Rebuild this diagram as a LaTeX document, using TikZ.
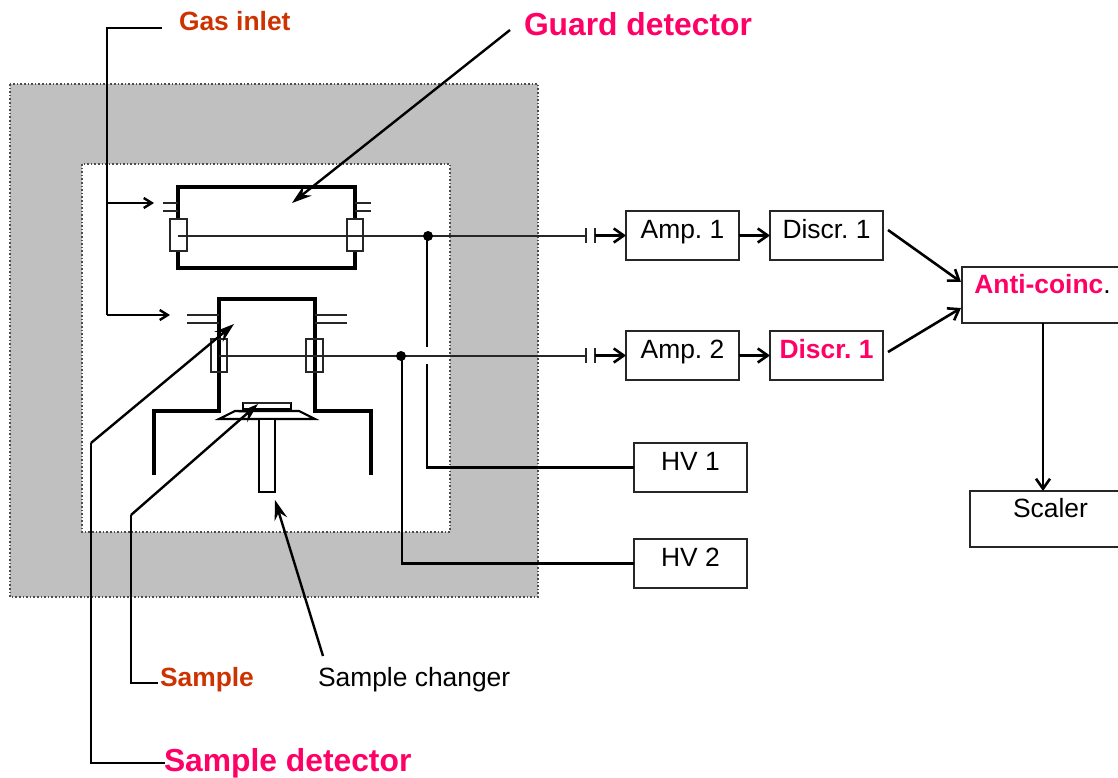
\documentclass[tikz,border=0pt]{standalone}
\usepackage{fontspec}
\setmainfont{Liberation Sans}
\usetikzlibrary{positioning}
\usetikzlibrary{calc,arrows.meta}
\definecolor{pinklabel}{RGB}{255,0,102}
\definecolor{rustlabel}{RGB}{204,51,0}
\definecolor{shieldgray}{RGB}{192,192,192}
\begin{document}
\frenchspacing
\begin{tikzpicture}[x=1pt,y=-1pt,every node/.style={outer sep=0pt,inner sep=0pt},
		wall/.style={line width=4.4pt,line join=miter},
		thin wire/.style={line width=2pt,draw=black!85},
		lead/.style={line width=2.1pt},
		feed/.style={line width=2.6pt,-{Straight Barb[length=10pt,width=14pt]}},
		inlet/.style={line width=2.4pt,-{Straight Barb[length=8pt,width=10pt]}},
		pointer/.style={line width=2.4pt,-{Stealth[length=20pt,width=13pt,inset=7pt]}},
		shield/.style={draw=black!70,line width=1.6pt,dotted},
		unit/.style={draw=black!85,line width=1.7pt,fill=white,text height=18pt,text depth=13pt,font=\fontsize{26.4}{29}\selectfont},
		small unit/.style={unit,minimum width=113pt,minimum height=49pt,anchor=north west},
		wide unit/.style={unit,minimum width=161pt,minimum height=56pt,anchor=north west,text depth=21pt},
		]
	\useasboundingbox (0,0) rectangle (1118,778);
	% shielding
	\draw[shield,fill=shieldgray] (10,84) rectangle (538,597);
	\draw[shield,fill=white] (82,164) rectangle (450,532);

	% guard detector
	\draw[wall] (178,187) rectangle (355,268);
	\foreach \y in {203,211} {
		\draw[thin wire] (163,\y) -- (178,\y);
		\draw[thin wire] (355,\y) -- (371,\y);
	}
	\draw[thin wire,fill=white] (170,219) rectangle (187,251);
	\draw[thin wire,fill=white] (347,219) rectangle (363,251);
	\draw[thin wire] (178,236) -- (586,236);

	% sample detector
	\draw[wall] (154,475) -- (154,411) -- (219,411) -- (219,299) -- (315,299) -- (315,411) -- (371,411) -- (371,475);
	\foreach \y in {315,323} {
		\draw[thin wire] (187,\y) -- (219,\y);
		\draw[thin wire] (315,\y) -- (347,\y);
	}
	\draw[thin wire] (211,339) rectangle (227,372);
	\draw[thin wire] (306,339) rectangle (323,372);
	\draw[thin wire] (219,356) -- (586,356);

	% sample holder
	\draw[lead,fill=white] (219,419) -- (235,411) -- (299,411) -- (315,419) -- cycle;
	\draw[lead] (243,402) -- (243,409) -- (291,409) -- (291,402);
	\draw[thin wire] (243,403) -- (291,403);
	\draw[lead,fill=white] (259,419) rectangle (275,492);

	% electronics
	\node[small unit] (amp1) at (626,211) {Amp. 1};
	\node[small unit] (discr1) at (770,211) {Discr. 1};
	\node[small unit] (amp2) at (626,331) {Amp. 2};
	\node[small unit] (discr2) at (770,331) {\textcolor{pinklabel}{\textbf{Discr. 1}}};
	\node[wide unit] (anti) at (962,267) {\textcolor{pinklabel}{\textbf{Anti-coinc}}.};
	\node[wide unit] (scaler) at (970,491) {Scaler};
	\node[small unit] (hv1) at (634,443) {HV 1};
	\node[small unit] (hv2) at (634,539) {HV 2};

	% signal lines
	\coordinate (cap1) at (595,235.5);
	\coordinate (cap2) at (595,355.5);
	\draw[thin wire] (586,228) -- (586,243);
	\draw[thin wire] (595,228) -- (595,243);
	\draw[thin wire] (586,348) -- (586,363);
	\draw[thin wire] (595,348) -- (595,363);
	\draw[feed] (cap1) -- (amp1.west);
	\draw[feed] (cap2) -- (amp2.west);
	\draw[feed] (amp1.east) -- (discr1.west);
	\draw[feed] (amp2.east) -- (discr2.west);
	\coordinate (anti in1) at (961,282);
	\coordinate (anti in2) at (961,308);
	\draw[feed] (888,230) -- (anti in1);
	\draw[feed] (888,352) -- (anti in2);
	\draw[feed] (anti.south -| 1043,0) -- (scaler.north -| 1043,0);

	% high voltage
	\coordinate (junc1) at (428,236);
	\coordinate (junc2) at (401,356);
	\draw[lead] (427,236) -- (427,347);
	\draw[lead] (427,364) |- (hv1.west);
	\draw[lead] (402,356) |- (hv2.west);
	\fill (junc1) circle (5pt);
	\fill (junc2) circle (5pt);

	% labels
	\node[font=\fontsize{26.4}{29}\selectfont\bfseries,text=rustlabel,anchor=west] (gas) at (179,21) {Gas inlet};
	\node[font=\fontsize{31.8}{35}\selectfont\bfseries,text=pinklabel,anchor=west] (guard) at (524,24) {Guard detector};
	\node[font=\fontsize{26.4}{29}\selectfont\bfseries,text=rustlabel,anchor=west] (sample) at (160,680) {Sample};
	\node[font=\fontsize{26.4}{29}\selectfont,anchor=west] (changer) at (318,680) {Sample changer};
	\node[font=\fontsize{31.8}{35}\selectfont\bfseries,text=pinklabel,anchor=west] (sampledet) at (164,763) {Sample detector};

	% pointers
	\draw[lead] (162,28) -- (107,28) -- (107,315);
	\draw[inlet] (107,315) -- (170,315);
	\draw[inlet] (107,203) -- (154,203);
	\draw[pointer] (510,30) -- (292,203);
	\draw[lead] (158,683) -- (131,683) -- (131,515);
	\draw[pointer] (131,515) -- (258,404);
	\draw[lead] (165,763) -- (91,763) -- (91,443);
	\draw[pointer] (91,443) -- (234,324);
	\draw[pointer] (323,656) -- (275,500);
\end{tikzpicture}
\end{document}
